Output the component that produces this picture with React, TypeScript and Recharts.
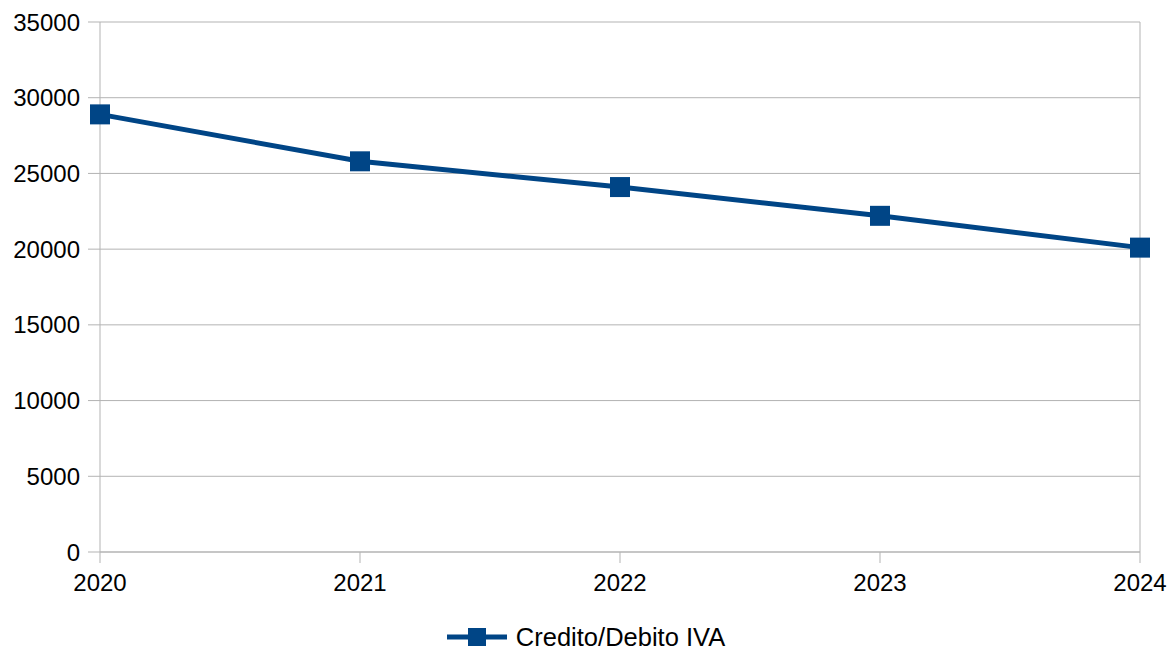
import React from 'react';
import { LineChart, Line, XAxis, YAxis, CartesianGrid, Legend, ReferenceLine } from 'recharts';

const years = ['2020', '2021', '2022', '2023', '2024'];
const ivaValues = [28900, 25800, 24100, 22200, 20100];
const yTicks = [0, 5000, 10000, 15000, 20000, 25000, 30000, 35000];

const data = years.map((year, i) => ({ year, iva: ivaValues[i] }));

const BLUE = '#004586';
const GRID = '#b3b3b3';
const FONT = '"Liberation Sans", Arial, sans-serif';

const SquareDot = (props: any) => {
  const { cx, cy, index } = props;
  if (cx == null || cy == null) return null;
  return <rect key={`dot-${index}`} x={cx - 10} y={cy - 10} width={20} height={20} fill={BLUE} />;
};

const LegendContent = () => (
  <div
    style={{
      display: 'flex',
      justifyContent: 'center',
      alignItems: 'center',
      height: 26,
      paddingLeft: 31,
      fontFamily: FONT,
      fontSize: 25.5,
      color: '#000',
    }}
  >
    <svg width={62} height={20} style={{ marginRight: 8 }}>
      <line x1={1} y1={10} x2={61} y2={10} stroke={BLUE} strokeWidth={5} />
      <rect x={22} y={1} width={18} height={18} fill={BLUE} />
    </svg>
    <span>Credito/Debito IVA</span>
  </div>
);

export default function App() {
  return (
    <div style={{ position: 'absolute', left: 0, top: 0, background: '#fff' }}>
      <LineChart
        width={1168}
        height={650}
        data={data}
        margin={{ top: 22, right: 28, left: 0, bottom: 0 }}
      >
        <CartesianGrid vertical={false} stroke={GRID} />
        <XAxis
          dataKey="year"
          height={72}
          tickSize={11}
          tickMargin={11}
          stroke={GRID}
          tick={{ fill: '#000', fontSize: 24, fontFamily: FONT }}
          interval={0}
        />
        <YAxis
          width={100}
          domain={[0, 35000]}
          ticks={yTicks}
          tickSize={12}
          tickMargin={8}
          stroke={GRID}
          tick={{ fill: '#000', fontSize: 24, fontFamily: FONT }}
        />
        <ReferenceLine x="2024" stroke={GRID} />
        <Legend verticalAlign="bottom" content={<LegendContent />} />
        <Line
          type="linear"
          dataKey="iva"
          stroke={BLUE}
          strokeWidth={5}
          dot={<SquareDot />}
          activeDot={false}
          isAnimationActive={false}
        />
      </LineChart>
    </div>
  );
}
